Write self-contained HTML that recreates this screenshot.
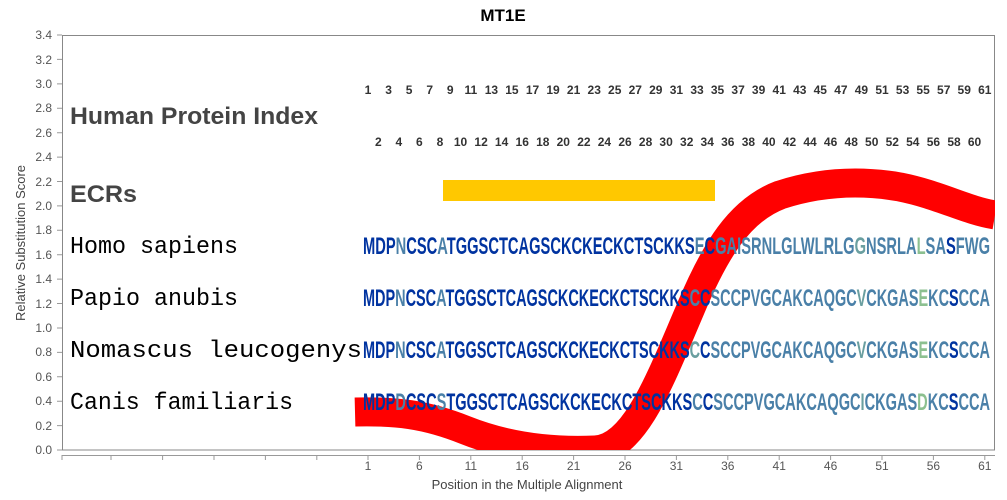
<!DOCTYPE html>
<html><head><meta charset="utf-8"><style>body{margin:0;background:#fff}svg{display:block}</style></head><body>
<svg width="1007" height="500" xmlns="http://www.w3.org/2000/svg" font-family="Liberation Sans, sans-serif">
<rect width="1007" height="500" fill="#fff"/>
<text x="503" y="21" font-size="17" font-weight="bold" text-anchor="middle" fill="#000">MT1E</text>
<defs><clipPath id="pc"><rect x="62" y="35" width="933" height="415"/></clipPath></defs>
<g font-size="12" fill="#555" text-anchor="end">
<text x="52" y="454">0.0</text><text x="52" y="430">0.2</text><text x="52" y="405">0.4</text><text x="52" y="381">0.6</text><text x="52" y="356">0.8</text><text x="52" y="332">1.0</text><text x="52" y="308">1.2</text><text x="52" y="283">1.4</text><text x="52" y="259">1.6</text><text x="52" y="234">1.8</text><text x="52" y="210">2.0</text><text x="52" y="186">2.2</text><text x="52" y="161">2.4</text><text x="52" y="137">2.6</text><text x="52" y="112">2.8</text><text x="52" y="88">3.0</text><text x="52" y="64">3.2</text><text x="52" y="39">3.4</text>
</g>
<g stroke="#999" stroke-width="1">
<path d="M57 450H62M57 425.6H62M57 401.2H62M57 376.8H62M57 352.4H62M57 328H62M57 303.5H62M57 279.1H62M57 254.7H62M57 230.3H62M57 205.9H62M57 181.5H62M57 157.1H62M57 132.7H62M57 108.3H62M57 83.9H62M57 59.4H62M57 35H62"/>
</g>
<text transform="translate(25,243) rotate(-90)" font-size="13" fill="#444" text-anchor="middle">Relative Substitution Score</text>
<rect x="62.5" y="35.5" width="932" height="414.5" fill="none" stroke="#888" stroke-width="1"/>
<path clip-path="url(#pc)" d="M355 412 C395 411 425 414 465 430 C505 446 550 452 595 450 C635 448 660 380 690 310 C715 250 740 210 780 195 C820 182 860 180 900 187 C940 195 965 210 995 215" fill="none" stroke="#ff0000" stroke-width="29"/>
<rect x="443" y="180" width="272" height="21" fill="#ffc800"/>
<text x="70" y="124" font-size="24" font-weight="bold" fill="#444" textLength="248" lengthAdjust="spacingAndGlyphs">Human Protein Index</text>
<text x="70" y="202" font-size="24" font-weight="bold" fill="#444" textLength="67" lengthAdjust="spacingAndGlyphs">ECRs</text>
<g font-family="Liberation Mono, monospace" font-size="24" fill="#000">
<text x="70" y="253" textLength="168" lengthAdjust="spacingAndGlyphs">Homo sapiens</text>
<text x="70" y="305" textLength="168" lengthAdjust="spacingAndGlyphs">Papio anubis</text>
<text x="70" y="357" textLength="292" lengthAdjust="spacingAndGlyphs">Nomascus leucogenys</text>
<text x="70" y="409" textLength="223" lengthAdjust="spacingAndGlyphs">Canis familiaris</text>
</g>
<g font-size="12" font-weight="bold" fill="#333" text-anchor="middle">
<text x="368" y="94">1</text><text x="388.6" y="94">3</text><text x="409.1" y="94">5</text><text x="429.7" y="94">7</text><text x="450.2" y="94">9</text><text x="470.8" y="94">11</text><text x="491.4" y="94">13</text><text x="511.9" y="94">15</text><text x="532.5" y="94">17</text><text x="553" y="94">19</text><text x="573.6" y="94">21</text><text x="594.2" y="94">23</text><text x="614.7" y="94">25</text><text x="635.3" y="94">27</text><text x="655.8" y="94">29</text><text x="676.4" y="94">31</text><text x="697" y="94">33</text><text x="717.5" y="94">35</text><text x="738.1" y="94">37</text><text x="758.6" y="94">39</text><text x="779.2" y="94">41</text><text x="799.8" y="94">43</text><text x="820.3" y="94">45</text><text x="840.9" y="94">47</text><text x="861.4" y="94">49</text><text x="882" y="94">51</text><text x="902.6" y="94">53</text><text x="923.1" y="94">55</text><text x="943.7" y="94">57</text><text x="964.2" y="94">59</text><text x="984.8" y="94">61</text>
<text x="378.3" y="146">2</text><text x="398.8" y="146">4</text><text x="419.4" y="146">6</text><text x="440" y="146">8</text><text x="460.5" y="146">10</text><text x="481.1" y="146">12</text><text x="501.6" y="146">14</text><text x="522.2" y="146">16</text><text x="542.8" y="146">18</text><text x="563.3" y="146">20</text><text x="583.9" y="146">22</text><text x="604.4" y="146">24</text><text x="625" y="146">26</text><text x="645.6" y="146">28</text><text x="666.1" y="146">30</text><text x="686.7" y="146">32</text><text x="707.2" y="146">34</text><text x="727.8" y="146">36</text><text x="748.4" y="146">38</text><text x="768.9" y="146">40</text><text x="789.5" y="146">42</text><text x="810" y="146">44</text><text x="830.6" y="146">46</text><text x="851.2" y="146">48</text><text x="871.7" y="146">50</text><text x="892.3" y="146">52</text><text x="912.8" y="146">54</text><text x="933.4" y="146">56</text><text x="954" y="146">58</text><text x="974.5" y="146">60</text>
</g>
<g font-size="24" font-weight="bold" fill="#0033a0">
<text x="363" y="254" textLength="627" lengthAdjust="spacingAndGlyphs">MDP<tspan fill="#4a80a8">N</tspan>CSC<tspan fill="#4a80a8">A</tspan>TGGSCTCAGSCKCKECKCTSCKKS<tspan fill="#4a80a8">E</tspan>C<tspan fill="#4a80a8">GAISRNLGLWLRLG</tspan><tspan fill="#6a9fa0">G</tspan><tspan fill="#4a80a8">NSRLA</tspan><tspan fill="#8cc090">L</tspan><tspan fill="#4a80a8">SA</tspan>S<tspan fill="#4a80a8">FWG</tspan></text>
<text x="363" y="306" textLength="627" lengthAdjust="spacingAndGlyphs">MDP<tspan fill="#4a80a8">N</tspan>CSC<tspan fill="#4a80a8">A</tspan>TGGSCTCAGSCKCKECKCTSCKKS<tspan fill="#4a80a8">C</tspan>C<tspan fill="#4a80a8">SCCPVGCAKCAQGC</tspan><tspan fill="#6a9fa0">V</tspan><tspan fill="#4a80a8">CKGAS</tspan><tspan fill="#8cc090">E</tspan><tspan fill="#4a80a8">KC</tspan>S<tspan fill="#4a80a8">CCA</tspan></text>
<text x="363" y="358" textLength="627" lengthAdjust="spacingAndGlyphs">MDP<tspan fill="#4a80a8">N</tspan>CSC<tspan fill="#4a80a8">A</tspan>TGGSCTCAGSCKCKECKCTSCKKS<tspan fill="#6a9fa0">C</tspan>C<tspan fill="#4a80a8">SCCPVGCAKCAQGC</tspan><tspan fill="#6a9fa0">V</tspan><tspan fill="#4a80a8">CKGAS</tspan><tspan fill="#8cc090">E</tspan><tspan fill="#4a80a8">KC</tspan>S<tspan fill="#4a80a8">CCA</tspan></text>
<text x="363" y="410" textLength="627" lengthAdjust="spacingAndGlyphs">MDP<tspan fill="#4a80a8">D</tspan>CSC<tspan fill="#4a80a8">S</tspan>TGGSCTCAGSCKCKECKCTSCKKS<tspan fill="#4a80a8">C</tspan>C<tspan fill="#4a80a8">SCCPVGCAKCAQGC</tspan><tspan fill="#6a9fa0">I</tspan><tspan fill="#4a80a8">CKGAS</tspan><tspan fill="#8cc090">D</tspan><tspan fill="#4a80a8">KC</tspan>S<tspan fill="#4a80a8">CCA</tspan></text>
</g>
<path d="M62 455.5H995" stroke="#999" stroke-width="1"/>
<path d="M62 455V460M111 455V460M162.6 455V460M214 455V460M265.4 455V460M316.8 455V460M368 455V460M419.4 455V460M470.8 455V460M522.2 455V460M573.6 455V460M625 455V460M676.4 455V460M727.8 455V460M779.2 455V460M830.6 455V460M882 455V460M933.4 455V460M984.8 455V460" stroke="#999" stroke-width="1"/>
<g font-size="12" fill="#555" text-anchor="middle">
<text x="368" y="470">1</text><text x="419.4" y="470">6</text><text x="470.8" y="470">11</text><text x="522.2" y="470">16</text><text x="573.6" y="470">21</text><text x="625" y="470">26</text><text x="676.4" y="470">31</text><text x="727.8" y="470">36</text><text x="779.2" y="470">41</text><text x="830.6" y="470">46</text><text x="882" y="470">51</text><text x="933.4" y="470">56</text><text x="984.8" y="470">61</text>
</g>
<text x="527" y="489" font-size="13" fill="#444" text-anchor="middle">Position in the Multiple Alignment</text>
</svg>
</body></html>
